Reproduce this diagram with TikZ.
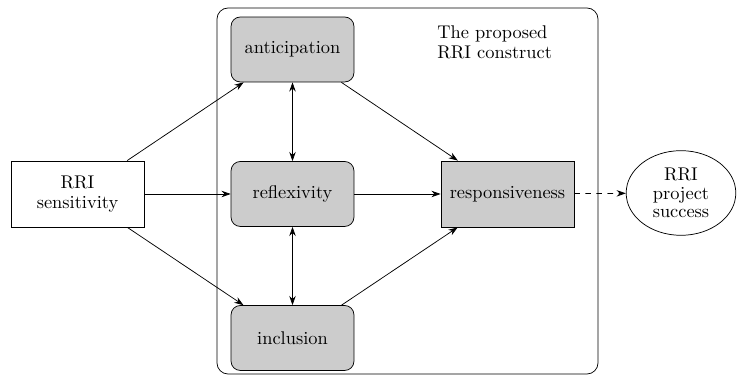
\documentclass[tikz,border=0pt]{standalone}
\usetikzlibrary{arrows.meta,shapes.geometric}
\begin{document}
\begin{tikzpicture}[x=0.5435pt,y=-0.5435pt,
  >={Stealth[length=5pt,width=3.5pt]},
  rbox/.style={draw,rounded corners=5pt,fill=gray!40,minimum width=66.8pt,minimum height=35.3pt,inner sep=0pt},
  sbox/.style={draw,minimum width=72.3pt,minimum height=35.9pt,inner sep=0pt,align=center},
  conn/.style={->}]
\useasboundingbox (0,0) rectangle (737,376);
\draw[rounded corners=6pt] (217,8) rectangle (598,374);
\node[anchor=north west,align=left,inner sep=0pt] (lbl) at (437,25) {The proposed\\[-1pt]RRI construct};
\node[sbox] (sens) at (77.5,194) {RRI\\[-1pt]sensitivity};
\node[rbox] (anti) at (292.5,49.5) {anticipation};
\node[rbox] (refl) at (292.5,194) {reflexivity};
\node[rbox] (incl) at (292.5,338) {inclusion};
\node[sbox,fill=gray!40] (resp) at (507.5,194) {responsiveness};
\node[draw,ellipse,minimum width=59.6pt,minimum height=46pt,inner sep=0pt,align=center] (succ) at (681,193) {RRI\\[-2pt]project\\[-2pt]success};
\draw[conn] (sens) -- (anti);
\draw[conn] (sens) -- (refl);
\draw[conn] (sens) -- (incl);
\draw[<->] (anti) -- (refl);
\draw[<->] (refl) -- (incl);
\draw[conn] (anti) -- (resp);
\draw[conn] (refl) -- (resp);
\draw[conn] (incl) -- (resp);
\draw[conn,dashed] (resp) -- (succ);
\end{tikzpicture}
\end{document}
